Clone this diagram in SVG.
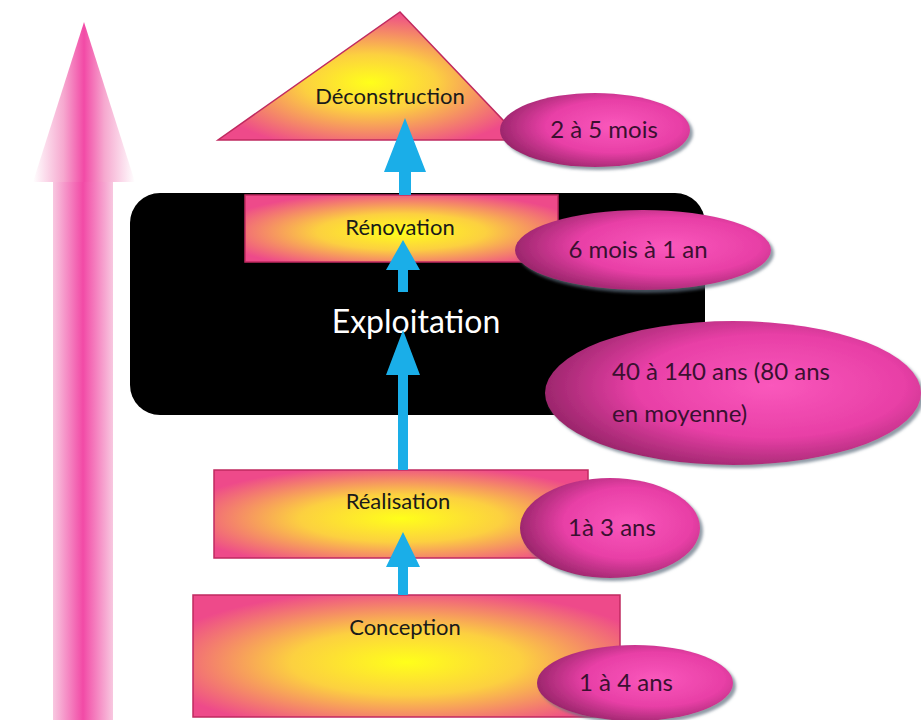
<svg xmlns="http://www.w3.org/2000/svg" width="921" height="720" viewBox="0 0 921 720">
<defs>
<radialGradient id="gBox" cx="0.5" cy="0.55" r="0.6">
<stop offset="0" stop-color="#ffff1a"/>
<stop offset="0.45" stop-color="#fcd040"/>
<stop offset="1" stop-color="#ee4a8a"/>
</radialGradient>
<radialGradient id="gTri" cx="0.5" cy="0.55" r="0.55">
<stop offset="0" stop-color="#ffff1a"/>
<stop offset="0.4" stop-color="#fcd040"/>
<stop offset="1" stop-color="#ee4a8a"/>
</radialGradient>
<radialGradient id="gEll" cx="0.6" cy="0.45" r="0.65">
<stop offset="0" stop-color="#fa58bc"/>
<stop offset="0.55" stop-color="#e83fa6"/>
<stop offset="1" stop-color="#8e2262"/>
</radialGradient>
<linearGradient id="gShaft" x1="0" y1="0" x2="1" y2="0">
<stop offset="0" stop-color="#f8c8e0"/>
<stop offset="0.5" stop-color="#f24aa6"/>
<stop offset="1" stop-color="#f8c8e0"/>
</linearGradient>
<linearGradient id="gHead" x1="0" y1="0" x2="1" y2="0">
<stop offset="0" stop-color="#ffffff"/>
<stop offset="0.3" stop-color="#f6a8cf"/>
<stop offset="0.5" stop-color="#f24aa6"/>
<stop offset="0.7" stop-color="#f6a8cf"/>
<stop offset="1" stop-color="#ffffff"/>
</linearGradient>
<filter id="sh" x="-10%" y="-10%" width="125%" height="130%">
<feDropShadow dx="3" dy="3" stdDeviation="1.5" flood-color="#607080" flood-opacity="0.7"/>
</filter>
</defs>
<style>
.box{fill:url(#gBox);stroke:#c02a60;stroke-width:1.5}
.ell{fill:url(#gEll);filter:url(#sh)}
.lbl{font-family:Lato,"Open Sans",sans-serif;font-size:22px;fill:#1a1a1a;text-anchor:middle}
.dur{font-family:Lato,"Open Sans",sans-serif;font-size:24px;fill:#3a1030;text-anchor:middle}
.durs{font-family:Lato,"Open Sans",sans-serif;font-size:24px;fill:#3a1030;text-anchor:start}
.blue{fill:#1aaee8}
</style>
<rect width="921" height="720" fill="#ffffff"/>
<g id="timeline-arrow">
<rect x="53" y="182" width="60" height="538" fill="url(#gShaft)"/>
<polygon points="84,22 135,182 33,182" fill="url(#gHead)"/>
</g>
<g id="exploitation">
<rect x="130" y="193" width="575" height="222" rx="30" fill="#000000"/>
<text x="416" y="333" font-family="Lato,'Open Sans',sans-serif" font-size="32" fill="#ffffff" text-anchor="middle">Exploitation</text>
</g>
<g id="deconstruction">
<polygon points="400,12 522,140 218,140" fill="url(#gTri)" stroke="#c02a60" stroke-width="1.5"/>
<text class="lbl" x="390" y="104">Déconstruction</text>
</g>
<g id="renovation">
<rect class="box" x="245" y="195" width="313" height="67"/>
<text class="lbl" x="400" y="235">Rénovation</text>
</g>
<g id="realisation">
<rect class="box" x="214" y="470" width="374" height="88"/>
<text class="lbl" x="398" y="509">Réalisation</text>
</g>
<g id="conception">
<rect class="box" x="193" y="595" width="427" height="122"/>
<text class="lbl" x="405" y="635">Conception</text>
</g>
<g id="connectors">
<polygon class="blue" points="405,118 426,172 411,172 411,195 399,195 399,172 384,172"/>
<polygon class="blue" points="403,240 420,270 408,270 408,292 398,292 398,270 386,270"/>
<polygon class="blue" points="403,330 420,375 408,375 408,470 398,470 398,375 386,375"/>
<polygon class="blue" points="403,532 420,567 408,567 408,595 398,595 398,567 386,567"/>
</g>
<g id="d-deconstruction">
<ellipse class="ell" cx="595" cy="130" rx="95" ry="37"/>
<text class="dur" x="604" y="138">2 à 5 mois</text>
</g>
<g id="d-renovation">
<ellipse class="ell" cx="643" cy="250" rx="128" ry="40"/>
<text class="dur" x="638" y="258">6 mois à 1 an</text>
</g>
<g id="d-exploitation">
<ellipse class="ell" cx="733" cy="393" rx="188" ry="72"/>
<text class="durs" x="612" y="380">40 à 140 ans (80 ans</text>
<text class="durs" x="612" y="422">en moyenne)</text>
</g>
<g id="d-realisation">
<ellipse class="ell" cx="610" cy="528" rx="90" ry="50"/>
<text class="dur" x="612" y="536">1à 3 ans</text>
</g>
<g id="d-conception">
<ellipse class="ell" cx="635" cy="683" rx="98" ry="38"/>
<text class="dur" x="626" y="691">1 à 4 ans</text>
</g>
</svg>
